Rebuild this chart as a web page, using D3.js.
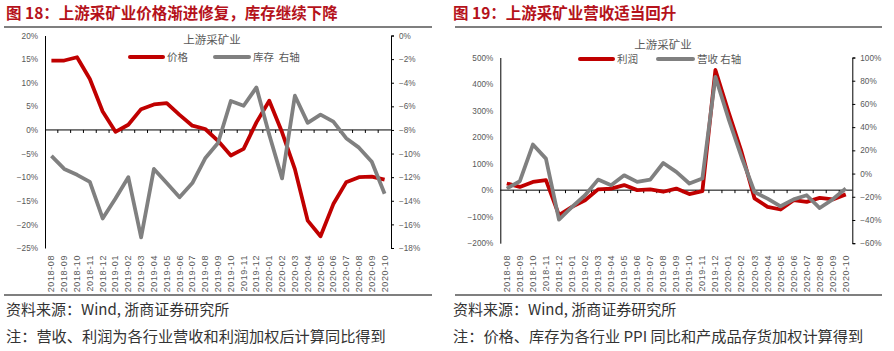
<!DOCTYPE html>
<html>
<head>
<meta charset="utf-8">
<script src="https://cdn.jsdelivr.net/npm/d3@7"></script>
<style>
  body { margin: 0; background: #fff; }
  svg { display: block; }
  .tick text { font-family: "Liberation Sans", Arial, sans-serif; fill: #595959; }
</style>
</head>
<body>
<div id="vis"></div>
<script>
// months shared by both charts
const months = ["2018-08","2018-09","2018-10","2018-11","2018-12","2019-01","2019-02","2019-03","2019-04",
  "2019-05","2019-06","2019-07","2019-08","2019-09","2019-10","2019-11","2019-12","2020-01","2020-02",
  "2020-03","2020-04","2020-05","2020-06","2020-07","2020-08","2020-09","2020-10"];

// fig 18: price (left axis), inventory (right axis)
const price = [14.7, 14.7, 15.4, 10.8, 3.9, -0.4, 1.1, 4.4, 5.4, 5.7, 3.2, 0.9, 0.2, -2.3, -5.4, -4.0,
  1.6, 6.2, -0.5, -8.3, -19.2, -22.5, -15.7, -11.1, -10.0, -9.9, -10.5];
const inventory = [-10.2, -11.3, -11.8, -12.4, -15.5, -13.8, -12.0, -17.1, -11.3, -12.5, -13.7, -12.5,
  -10.4, -9.1, -5.55, -5.95, -4.4, -8.4, -12.1, -5.1, -7.4, -6.7, -7.3, -8.7, -9.5, -10.7, -13.4];
const leftTicks18 = [20, 15, 10, 5, 0, -5, -10, -15, -20, -25];
const rightTicks18 = [0, -2, -4, -6, -8, -10, -12, -14, -16, -18];

// fig 19: profit (left axis), revenue (right axis)
const profit = [25, 12, 31, 38, -94, -63, -38, 3, 6, 19, 0, 3, -6, 6, -15, -4, 453, 295, 145, -31,
  -63, -73, -38, -44, -29, -35, -16];
const revenue = [-12.9, -6.6, 25, 12.9, -39.7, -28.8, -18.7, -5.2, -10.1, -1.5, -7.2, -5.2, 9.1, 1.4,
  -8.6, -4.3, 83.3, 47.4, 14.3, -15.9, -21.6, -28.2, -22.2, -18.7, -29.7, -22.2, -12.9];
const leftTicks19 = [500, 400, 300, 200, 100, 0, -100, -200];
const rightTicks19 = [100, 80, 60, 40, 20, 0, -20, -40, -60];

const RED = "#c00000", GRAY = "#808080";

////////////////////////////////////////
////////////// SVG Setup ///////////////
////////////////////////////////////////
const svg = d3.select("#vis").append("svg")
  .attr("width", 894).attr("height", 351);

const fmt = d => d3.format("d")(d) + "%";

function drawChart(o) {
  const g = svg.append("g");

  // title + rules
  g.append("text").attr("x", o.ox + 6).attr("y", 19)
    .attr("font-family", "'Noto Sans CJK SC', sans-serif").attr("font-weight", "bold")
    .attr("font-size", 15.5).attr("fill", "#b5121b").text(o.title);
  g.append("line").attr("x1", o.ox + o.ruleX[0]).attr("x2", o.ox + o.ruleX[1])
    .attr("y1", 27).attr("y2", 27).attr("stroke", "#000").attr("stroke-width", 1.2);
  g.append("line").attr("x1", o.ox + o.ruleX[0]).attr("x2", o.ox + o.ruleX[1])
    .attr("y1", 295).attr("y2", 295).attr("stroke", "#000").attr("stroke-width", 1.2);

  g.append("text").attr("x", o.ox + 6).attr("y", 315)
    .attr("font-family", "'Noto Sans CJK SC', serif").attr("font-size", 15)
    .attr("fill", "#333").text("资料来源：Wind, 浙商证券研究所");
  g.append("text").attr("x", o.ox + 6).attr("y", 342)
    .attr("font-family", "'Noto Sans CJK SC', serif").attr("font-size", 15.2)
    .attr("fill", "#333").text(o.note);

  // scales
  const x = d3.scaleBand().domain(months).range([o.x0, o.x1]);
  const xc = d => x(d) + x.bandwidth() / 2;
  const yL = d3.scaleLinear().domain(o.leftDomain).range([o.yb, o.yt]);
  const yR = d3.scaleLinear().domain(o.rightDomain).range([o.yb, o.yt]);

  // left axis
  const la = g.append("g").attr("transform", `translate(${o.x0},0)`)
    .call(d3.axisLeft(yL).tickValues(o.leftTicks).tickSize(0).tickPadding(7).tickFormat(fmt));
  la.select(".domain").attr("stroke", "#000");
  la.selectAll("text").attr("font-size", 8.2);

  // right axis
  const ra = g.append("g").attr("transform", `translate(${o.x1},0)`)
    .call(d3.axisRight(yR).tickValues(o.rightTicks).tickSizeOuter(0).tickSize(3).tickPadding(5).tickFormat(fmt));
  ra.select(".domain").attr("stroke", "#000");
  ra.selectAll("line").attr("stroke", "#000");
  ra.selectAll("text").attr("font-size", 8.2);

  // zero line with ticks at band boundaries
  const y0 = yL(0);
  g.append("line").attr("x1", o.x0).attr("x2", o.x1).attr("y1", y0).attr("y2", y0)
    .attr("stroke", "#000");
  g.selectAll(".zt").data(months.slice(1)).join("line")
    .attr("x1", d => x(d)).attr("x2", d => x(d))
    .attr("y1", y0).attr("y2", y0 + 3).attr("stroke", "#000");

  // month labels (vertical)
  g.selectAll(".ml").data(months).join("text")
    .attr("transform", d => `translate(${xc(d)},255) rotate(-90)`)
    .attr("dy", "0.33em").attr("text-anchor", "end")
    .attr("font-family", "'Liberation Sans', Arial, sans-serif")
    .attr("font-size", 9).attr("letter-spacing", 0.6).attr("fill", "#595959")
    .text(d => d);

  // lines
  const lineL = d3.line().x((d, i) => xc(months[i])).y(d => yL(d));
  const lineR = d3.line().x((d, i) => xc(months[i])).y(d => yR(d));
  g.append("path").datum(o.leftSeries).attr("d", lineL)
    .attr("fill", "none").attr("stroke", RED).attr("stroke-width", 3.8).attr("stroke-linejoin", "round");
  g.append("path").datum(o.rightSeries).attr("d", lineR)
    .attr("fill", "none").attr("stroke", GRAY).attr("stroke-width", 3.8).attr("stroke-linejoin", "round");

  // legend
  const lf = "'Noto Sans CJK SC', serif";
  g.append("text").attr("x", o.legend.cx).attr("y", o.legend.ty).attr("text-anchor", "middle")
    .attr("font-family", lf).attr("font-size", 11.5).attr("fill", "#595959").text("上游采矿业");
  o.legend.items.forEach(it => {
    g.append("line").attr("x1", it.x1).attr("x2", it.x2).attr("y1", o.legend.ly).attr("y2", o.legend.ly)
      .attr("stroke", it.color).attr("stroke-width", 4).attr("stroke-linecap", "round");
    g.append("text").attr("x", it.x2 + 4).attr("y", o.legend.ly + 4)
      .attr("font-family", lf).attr("font-size", 10.5).attr("fill", "#595959")
      .attr("xml:space", "preserve").text(it.label);
  });
}

drawChart({
  ox: 0, ruleX: [4, 432],
  title: "图 18：上游采矿业价格渐进修复，库存继续下降",
  note: "注：营收、利润为各行业营收和利润加权后计算同比得到",
  x0: 45, x1: 391, yt: 35.5, yb: 248,
  leftDomain: [-25, 20], rightDomain: [-18, 0],
  leftTicks: leftTicks18, rightTicks: rightTicks18,
  leftSeries: price, rightSeries: inventory,
  legend: { cx: 212, ty: 44, ly: 57, items: [
    { x1: 130, x2: 163, color: RED, label: "价格" },
    { x1: 215, x2: 249, color: GRAY, label: "库存  右轴" }
  ] }
});

drawChart({
  ox: 447, ruleX: [8, 435],
  title: "图 19：上游采矿业营收适当回升",
  note: "注：价格、库存为各行业 PPI 同比和产成品存货加权计算得到",
  x0: 500.3, x1: 852.3, yt: 57.5, yb: 243.2,
  leftDomain: [-200, 500], rightDomain: [-60, 100],
  leftTicks: leftTicks19, rightTicks: rightTicks19,
  leftSeries: profit, rightSeries: revenue,
  legend: { cx: 663, ty: 49, ly: 59, items: [
    { x1: 580, x2: 613, color: RED, label: "利润" },
    { x1: 658, x2: 693, color: GRAY, label: "营收 右轴" }
  ] }
});
</script>
</body>
</html>
